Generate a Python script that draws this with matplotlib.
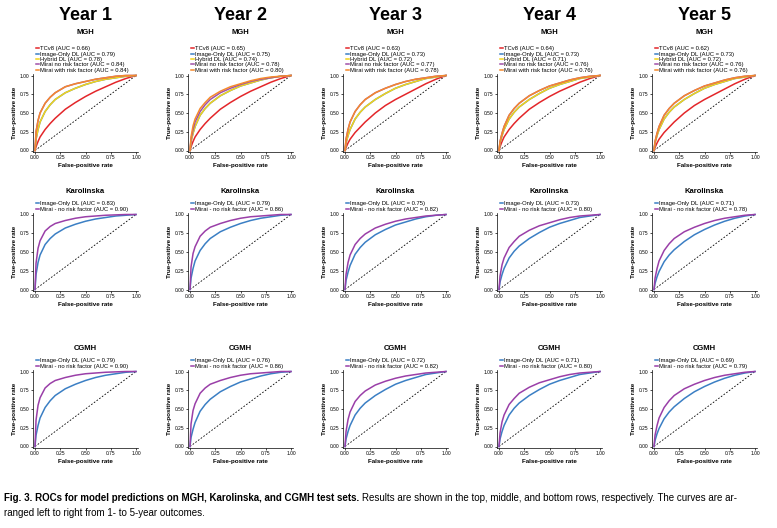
import matplotlib.pyplot as plt

FPR = [0, 0.01, 0.03, 0.05, 0.1, 0.15, 0.2, 0.3, 0.4, 0.5, 0.6, 0.7, 0.8, 0.9, 1]
TPR_90 = [0, 0.35, 0.55, 0.65, 0.78, 0.84, 0.88, 0.92, 0.95, 0.97, 0.98, 0.99, 0.995, 1, 1]
TPR_86 = [0, 0.30, 0.48, 0.57, 0.71, 0.78, 0.83, 0.88, 0.92, 0.95, 0.97, 0.98, 0.99, 1, 1]
TPR_84 = [0, 0.25, 0.40, 0.50, 0.63, 0.71, 0.77, 0.85, 0.89, 0.92, 0.95, 0.97, 0.99, 1, 1]
TPR_82 = [0, 0.20, 0.36, 0.46, 0.60, 0.68, 0.74, 0.82, 0.87, 0.91, 0.94, 0.96, 0.98, 0.99, 1]
TPR_80 = [0, 0.18, 0.33, 0.42, 0.56, 0.64, 0.71, 0.79, 0.85, 0.89, 0.93, 0.96, 0.98, 0.99, 1]
TPR_78 = [0, 0.15, 0.28, 0.38, 0.52, 0.61, 0.68, 0.77, 0.83, 0.88, 0.92, 0.95, 0.97, 0.99, 1]
TPR_75 = [0, 0.12, 0.23, 0.32, 0.47, 0.56, 0.63, 0.73, 0.80, 0.86, 0.90, 0.94, 0.97, 0.99, 1]
TPR_72 = [0, 0.10, 0.20, 0.28, 0.42, 0.51, 0.58, 0.68, 0.76, 0.83, 0.88, 0.92, 0.96, 0.98, 1]
TPR_69 = [0, 0.08, 0.17, 0.24, 0.37, 0.46, 0.53, 0.64, 0.73, 0.80, 0.86, 0.91, 0.95, 0.98, 1]
TPR_65 = [0, 0.05, 0.12, 0.18, 0.28, 0.36, 0.43, 0.55, 0.64, 0.72, 0.79, 0.85, 0.91, 0.96, 1]
TPR_62 = [0, 0.04, 0.10, 0.15, 0.24, 0.31, 0.38, 0.50, 0.60, 0.68, 0.75, 0.82, 0.89, 0.95, 1]

YEARS = ["Year 1", "Year 2", "Year 3", "Year 4", "Year 5"]
SITES = ["MGH", "Karolinska", "CGMH"]

MGH_NAMES = ["TCv8", "Image-Only DL", "Hybrid DL", "Mirai no risk factor", "Mirai with risk factor"]
MGH_COLORS = ["#e3262a", "#3b7fc4", "#f2d31b", "#a04fa8", "#f58a2c"]
MGH_AUC = [
    [0.66, 0.79, 0.78, 0.84, 0.84],
    [0.65, 0.75, 0.74, 0.78, 0.80],
    [0.63, 0.73, 0.72, 0.77, 0.78],
    [0.64, 0.73, 0.71, 0.76, 0.76],
    [0.62, 0.73, 0.72, 0.76, 0.76],
]
MGH_CURVES = [
    [TPR_65, TPR_78, TPR_78, TPR_84, TPR_84],
    [TPR_65, TPR_75, TPR_75, TPR_78, TPR_80],
    [TPR_62, TPR_72, TPR_72, TPR_78, TPR_78],
    [TPR_65, TPR_72, TPR_72, TPR_75, TPR_75],
    [TPR_62, TPR_72, TPR_72, TPR_75, TPR_75],
]

EXT_NAMES = ["Image-Only DL", "Mirai - no risk factor"]
EXT_COLORS = ["#3b7fc4", "#9a3fa8"]
KAR_AUC = [[0.83, 0.90], [0.79, 0.86], [0.75, 0.82], [0.73, 0.80], [0.71, 0.78]]
KAR_CURVES = [[TPR_82, TPR_90], [TPR_78, TPR_86], [TPR_75, TPR_82], [TPR_72, TPR_80], [TPR_69, TPR_78]]
CG_AUC = [[0.79, 0.90], [0.76, 0.86], [0.72, 0.82], [0.71, 0.80], [0.69, 0.79]]
CG_CURVES = [[TPR_78, TPR_90], [TPR_75, TPR_86], [TPR_72, TPR_82], [TPR_72, TPR_80], [TPR_69, TPR_78]]

TICKS = [0, 0.25, 0.5, 0.75, 1.0]
TICK_LABELS = ["0.00", "0.25", "0.50", "0.75", "1.00"]

W, H = 777, 528
COL_X = [33, 188, 343, 497, 652]
ROW_Y = [74, 213, 370]
AX_W, AX_H = 105, 78

fig = plt.figure(figsize=(7.77, 5.28), dpi=100)
plt.rcParams["font.family"] = "Liberation Sans"


def panel(ax, site, curves, aucs, names, colors):
    ax.plot([0, 1], [0, 1], "k--", lw=0.6, dashes=(2, 2))
    handles = []
    for tpr, auc, name, c in zip(curves, aucs, names, colors):
        h, = ax.plot(FPR, tpr, color=c, lw=1.1)
        h.set_label(f"{name} (AUC = {auc:.2f})")
        handles.append(h)
    ax.set_xlim(-0.02, 1.02)
    ax.set_ylim(-0.02, 1.02)
    ax.set_xticks(TICKS)
    ax.set_yticks(TICKS)
    ax.set_xticklabels(TICK_LABELS)
    ax.set_yticklabels(TICK_LABELS)
    ax.tick_params(labelsize=3.5, length=1.5, width=0.5, pad=1)
    for s in ["top", "right"]:
        ax.spines[s].set_visible(False)
    for s in ["left", "bottom"]:
        ax.spines[s].set_linewidth(0.5)
    ax.set_xlabel("False-positive rate", fontsize=4.5, fontweight="bold", labelpad=2)
    ax.set_ylabel("True-positive rate", fontsize=4.5, fontweight="bold", labelpad=2)
    leg = ax.legend(handles=handles, loc="lower left", bbox_to_anchor=(0.02, 1.0),
                    frameon=False, fontsize=4.2, handlelength=0.5, handletextpad=0.2,
                    labelspacing=0.05, borderaxespad=0.2, borderpad=0)
    nrows = len(handles)
    ax.text(0.5, 1.04 + 0.085 * nrows + 0.05, site, transform=ax.transAxes,
            ha="center", fontsize=5.5, fontweight="bold")


for j in range(5):
    for i, site in enumerate(SITES):
        x0 = COL_X[j] / W
        y0 = 1 - (ROW_Y[i] + AX_H) / H
        ax = fig.add_axes([x0, y0, AX_W / W, AX_H / H])
        if i == 0:
            panel(ax, site, MGH_CURVES[j], MGH_AUC[j], MGH_NAMES, MGH_COLORS)
        elif i == 1:
            panel(ax, site, KAR_CURVES[j], KAR_AUC[j], EXT_NAMES, EXT_COLORS)
        else:
            panel(ax, site, CG_CURVES[j], CG_AUC[j], EXT_NAMES, EXT_COLORS)
    fig.text((COL_X[j] + AX_W / 2) / W, 1 - 16 / H, YEARS[j], ha="center", va="center",
             fontsize=13, fontweight="bold")

bold = fig.text(4 / W, 1 - 498 / H, "Fig. 3. ROCs for model predictions on MGH, Karolinska, and CGMH test sets.",
                fontsize=7, fontweight="bold", va="center")
fig.canvas.draw()
bb = bold.get_window_extent()
fig.text((bb.x1 + 3) / W, 1 - 498 / H,
         "Results are shown in the top, middle, and bottom rows, respectively. The curves are ar-",
         fontsize=7, va="center")
fig.text(4 / W, 1 - 513 / H, "ranged left to right from 1- to 5-year outcomes.", fontsize=7, va="center")

fig.savefig("out.png", dpi=100)
